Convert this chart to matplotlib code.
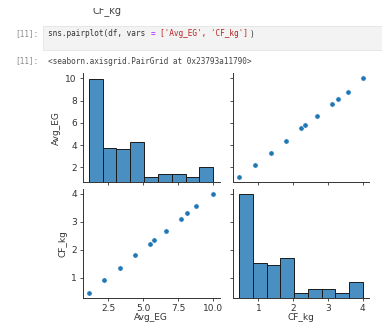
import numpy as np
import matplotlib
matplotlib.use("Agg")
import matplotlib.pyplot as plt
from matplotlib.transforms import Bbox

# distinct (Avg_EG, CF_kg) pairs seen in the scatter panels
avg_eg = [1.1, 2.2, 3.3, 4.4, 5.5, 5.8, 6.6, 7.7, 8.1, 8.8, 10.0]
cf_kg = [0.45, 0.9, 1.35, 1.8, 2.22, 2.35, 2.68, 3.12, 3.3, 3.57, 4.0]
# how many rows share each pair (estimated from the histogram heights)
n_rows = [60, 20, 19, 23, 2, 1, 5, 5, 1, 2, 9]

n_bins = 9
avg_ticks = [2.5, 5.0, 7.5, 10.0]
avg_yticks = [2, 4, 6, 8, 10]
cf_ticks = [1, 2, 3, 4]

code_line = [("sns.pairplot(df, vars ", "#333333"), ("=", "#aa22ff"), (" ", "#333333"),
             ("['Avg_EG', 'CF_kg']", "#ba2121"), (")", "#333333")]
out_line = "<seaborn.axisgrid.PairGrid at 0x23793a11790>"

W, H = 382, 322
fig = plt.figure(figsize=(W / 100, H / 100), dpi=100)
fig.patch.set_facecolor("white")


def rect(x0, y0, x1, y1):
    # pixel box (top-left origin) -> figure fraction
    return [x0 / W, 1 - y1 / H, (x1 - x0) / W, (y1 - y0) / H]


def px(x, y):
    return x / W, 1 - y / H


# ---- notebook header ----
t = fig.text(*px(107, 11), "CF_kg", ha="center", va="center", fontsize=7, color="#444444")
t.set_clip_box(Bbox([[0, 0], [W, H - 7.5]]))
t.set_clip_on(True)

fig.patches.append(plt.Rectangle(px(43, 50), (W - 43) / W, 24 / H, transform=fig.transFigure,
                                 facecolor="#f3f3f3", edgecolor="#e4e4e4", linewidth=0.6))

mono = dict(family="DejaVu Sans Mono", fontsize=5.6, va="center")
cw = 0.602 * 5.6 * 100 / 72
fig.text(*px(15, 34), "[11]:", color="#8a8a8a", **mono)
x = 48
for s, c in code_line:
    fig.text(*px(x, 34), s, color=c, **mono)
    x += len(s) * cw
fig.text(*px(15, 61), "[11]:", color="#8a8a8a", **mono)
fig.text(*px(48, 61), out_line, color="#444444", **mono)

# ---- pair grid ----
ax_tl = fig.add_axes(rect(82.5, 73.4, 219.5, 182.2))
ax_tr = fig.add_axes(rect(233, 73.4, 369, 182.2))
ax_bl = fig.add_axes(rect(82.5, 189, 219.5, 298))
ax_br = fig.add_axes(rect(233, 189, 369, 298))

blue = "#1f77b4"
ax_bl.scatter(avg_eg, cf_kg, s=14, color=blue, edgecolor="white", linewidth=0.3, zorder=3)
ax_tr.scatter(cf_kg, avg_eg, s=14, color=blue, edgecolor="white", linewidth=0.3, zorder=3)

ax_tl.set_xlim(ax_bl.get_xlim())
ax_tl.set_ylim(ax_tr.get_ylim())
ax_br.set_xlim(ax_tr.get_xlim())
ax_br.set_ylim(ax_bl.get_ylim())

for ax, vals in [(ax_tl, avg_eg), (ax_br, cf_kg)]:
    hx = ax.twinx()
    hx.hist(vals, bins=n_bins, weights=n_rows, color="#4a8fc2", edgecolor="#1a1a1a", linewidth=0.7)
    hx.set_yticks([])
    for sp in hx.spines.values():
        sp.set_visible(False)

for ax in [ax_tl, ax_bl]:
    ax.set_xticks(avg_ticks)
for ax in [ax_tr, ax_br]:
    ax.set_xticks(cf_ticks)
for ax in [ax_tl, ax_tr]:
    ax.set_yticks(avg_yticks)
for ax in [ax_bl, ax_br]:
    ax.set_yticks(cf_ticks)

for ax in [ax_tl, ax_tr, ax_bl, ax_br]:
    for sp in ["top", "right"]:
        ax.spines[sp].set_visible(False)
    for sp in ["left", "bottom"]:
        ax.spines[sp].set_linewidth(0.7)
        ax.spines[sp].set_color("#333333")
    ax.tick_params(length=2.5, width=0.6, labelsize=6.5, pad=1.5, colors="#333333")

ax_tl.tick_params(labelbottom=False)
ax_tr.tick_params(labelbottom=False, labelleft=False)
ax_br.tick_params(labelleft=False)

ax_tl.set_ylabel("Avg_EG", fontsize=6.5, color="#333333", labelpad=3)
ax_bl.set_ylabel("CF_kg", fontsize=6.5, color="#333333", labelpad=3)
for ax, lab in [(ax_bl, "Avg_EG"), (ax_br, "CF_kg")]:
    ax.set_xlabel(lab, fontsize=6.5, color="#333333", labelpad=0.5)

fig.savefig("out.png", dpi=100)
